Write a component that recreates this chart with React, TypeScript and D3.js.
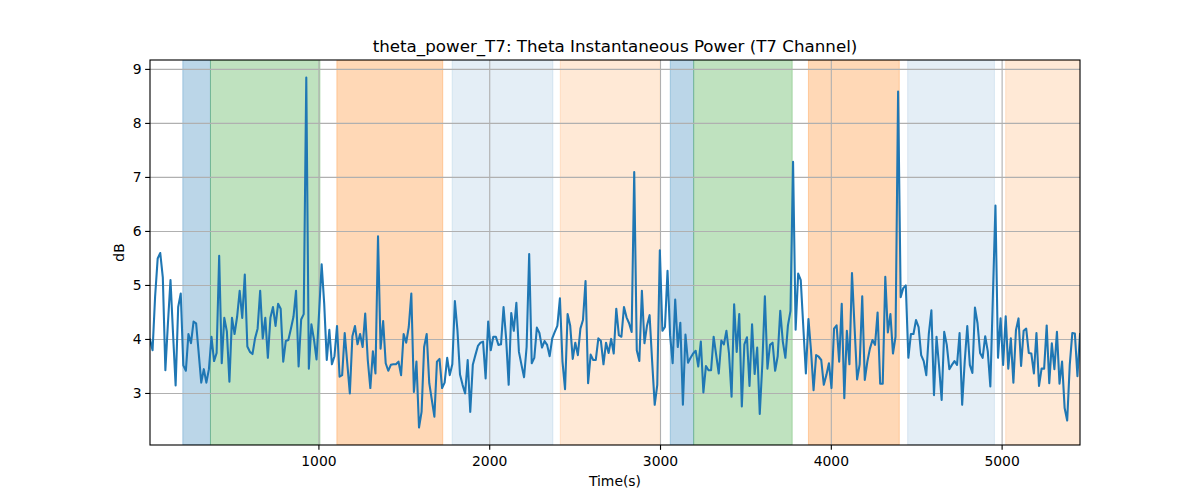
import React from "react";
import * as d3 from "d3";

const T0 = 11;
const STEP = 15;

const values: number[] = [
  4.0, 3.8, 4.8, 5.5, 5.6, 5.15, 3.43, 4.3, 5.1, 4.1,
  3.15, 4.6, 4.85, 3.52, 3.42, 4.1, 3.93, 4.33, 4.3, 3.75,
  3.2, 3.45, 3.2, 3.45, 4.05, 3.6, 3.75, 5.55, 3.56, 4.4,
  4.15, 3.22, 4.4, 4.1, 4.42, 4.9, 4.4, 5.2, 3.87, 3.77,
  3.73, 4.02, 4.2, 4.9, 4.02, 4.4, 3.66, 4.4, 4.6, 4.25,
  4.66, 4.57, 3.59, 3.97, 3.99, 4.2, 4.42, 4.9, 3.5, 4.37,
  4.47, 8.85, 3.46, 4.28, 4.0, 3.63, 4.5, 5.39, 4.66, 3.62,
  4.18, 3.54, 3.69, 4.25, 3.31, 3.34, 4.12, 3.56, 3.0, 4.06,
  4.25, 3.91, 4.1, 3.86, 4.48, 3.62, 3.1, 3.78, 3.37, 5.91,
  3.83, 4.34, 3.56, 3.42, 3.53, 3.54, 3.54, 3.59, 3.34, 4.1,
  3.94, 4.23, 4.85, 3.03, 3.59, 2.37, 2.66, 3.86, 4.1, 3.19,
  2.88, 2.57, 3.59, 3.64, 3.1, 3.2, 3.66, 3.34, 3.54, 4.71,
  4.17, 3.35, 3.16, 3.0, 3.62, 2.66, 3.53, 3.71, 3.88, 3.94,
  3.96, 3.28, 4.33, 3.8, 4.05, 4.05, 3.9, 3.91, 4.6, 4.02,
  3.16, 4.49, 4.16, 4.68, 3.77, 3.53, 3.3, 3.86, 5.58, 3.56,
  3.66, 4.22, 4.12, 3.85, 3.97, 3.9, 3.69, 4.02, 4.14, 4.25,
  4.76, 3.59, 3.08, 4.47, 4.26, 3.64, 3.94, 3.71, 4.2, 4.36,
  5.08, 3.19, 3.72, 3.62, 3.62, 4.02, 3.97, 3.54, 3.94, 3.75,
  4.01, 3.74, 4.57, 4.08, 4.05, 4.6, 4.41, 4.3, 4.14, 7.1,
  3.8, 3.6, 4.9, 3.93, 4.26, 4.45, 3.59, 2.79, 3.16, 5.65,
  4.16, 4.23, 5.27, 4.08, 3.56, 4.74, 3.86, 4.31, 2.79, 4.09,
  3.57, 3.66, 3.74, 3.79, 3.5, 3.96, 3.02, 3.51, 3.43, 3.43,
  4.05, 3.71, 3.37, 3.98, 3.91, 4.16, 3.74, 2.94, 4.65, 3.77,
  4.47, 2.76, 3.91, 4.04, 3.14, 4.28, 3.36, 3.85, 2.62, 3.54,
  4.8, 3.46, 3.9, 3.94, 3.42, 3.69, 4.53, 3.96, 3.66, 4.26,
  4.53, 7.29, 4.18, 5.22, 5.1, 4.23, 3.37, 4.38, 3.8, 3.06,
  3.71, 3.68, 3.62, 3.16, 3.34, 3.56, 3.1, 4.2, 4.26, 3.59,
  4.66, 2.91, 4.16, 3.54, 5.23, 4.23, 3.26, 3.54, 4.8, 3.25,
  3.59, 3.83, 3.99, 3.9, 4.5, 3.18, 3.18, 5.16, 4.13, 4.47,
  3.74, 4.05, 8.59, 4.78, 4.95, 5.0, 3.66, 4.1, 4.1, 4.36,
  4.23, 3.71, 3.6, 3.34, 4.11, 4.54, 2.97, 4.05, 3.5, 2.88,
  4.14, 3.9, 3.45, 3.53, 3.6, 3.53, 4.12, 2.79, 3.59, 4.25,
  3.53, 3.38, 4.59, 4.3, 3.75, 3.66, 4.06, 3.78, 3.13, 4.8,
  6.48, 3.66, 4.39, 3.53, 4.43, 3.46, 4.02, 3.2, 4.17, 4.39,
  3.51, 4.16, 4.2, 3.75, 3.74, 3.37, 4.12, 3.14, 3.46, 3.46,
  4.26, 3.19, 3.93, 3.45, 4.14, 3.18, 3.59, 2.73, 2.5, 3.53,
  4.12, 4.11, 3.32, 4.1,
];

const times: number[] = values.map((_, i) => T0 + i * STEP);

const spanStarts = [203, 365, 1105, 1780, 2413, 3057, 3194, 3866, 4447, 5021];
const spanEnds = [365, 1006, 1725, 2370, 2999, 3194, 3771, 4398, 4955, 5600];
const spanColors = ["#1f77b4", "#2ca02c", "#ff7f0e", "#1f77b4", "#ff7f0e", "#1f77b4", "#2ca02c", "#ff7f0e", "#1f77b4", "#ff7f0e"];
const spanAlphas = [0.3, 0.3, 0.3, 0.12, 0.17, 0.3, 0.3, 0.3, 0.12, 0.17];

const xTicks = [1000, 2000, 3000, 4000, 5000];
const yTicks = [3, 4, 5, 6, 7, 8, 9];

const TITLE = "theta_power_T7: Theta Instantaneous Power (T7 Channel)";
const XLABEL = "Time(s)";
const YLABEL = "dB";

export default function App() {
  const W = 1200, H = 500;
  const L = 150, R = 1080, T = 60, B = 445;
  const x = d3.scaleLinear().domain([times[0], times[times.length - 1]]).range([L, R]);
  const [mn, mx] = d3.extent(values) as [number, number];
  const pad = (mx - mn) * 0.05;
  const y = d3.scaleLinear().domain([mn - pad, mx + pad]).range([B, T]);
  const line = d3.line<number>().x((_, i) => x(times[i])).y((d) => y(d));
  const font = "DejaVu Sans, sans-serif";
  const fs = 13.9;

  return (
    <svg width={W} height={H} style={{ position: "absolute", left: 0, top: 0, background: "#fff" }} fontFamily={font}>
      <defs>
        <clipPath id="plot">
          <rect x={L} y={T} width={R - L} height={B - T} />
        </clipPath>
      </defs>
      <rect x={0} y={0} width={W} height={H} fill="#fff" />
      <g clipPath="url(#plot)">
        {spanStarts.map((s, i) => (
          <rect
            key={i}
            x={x(s)}
            y={T}
            width={x(spanEnds[i]) - x(s)}
            height={B - T}
            fill={spanColors[i]}
            fillOpacity={spanAlphas[i]}
            stroke={spanColors[i]}
            strokeOpacity={spanAlphas[i]}
            strokeWidth={1}
          />
        ))}
        {xTicks.map((t) => (
          <line key={"gx" + t} x1={x(t)} x2={x(t)} y1={T} y2={B} stroke="#b0b0b0" strokeWidth={1.11} />
        ))}
        {yTicks.map((t) => (
          <line key={"gy" + t} x1={L} x2={R} y1={y(t)} y2={y(t)} stroke="#b0b0b0" strokeWidth={1.11} />
        ))}
        <path d={line(values) || ""} fill="none" stroke="#1f77b4" strokeWidth={2.08} strokeLinejoin="round" strokeLinecap="square" />
      </g>
      <rect x={L} y={T} width={R - L} height={B - T} fill="none" stroke="#000" strokeWidth={1.11} />
      {xTicks.map((t) => (
        <g key={"tx" + t}>
          <line x1={x(t)} x2={x(t)} y1={B} y2={B + 4.86} stroke="#000" strokeWidth={1.11} />
          <text x={x(t)} y={B + 16} textAnchor="middle" fontSize={fs} dominantBaseline="central" fill="#000">{t}</text>
        </g>
      ))}
      {yTicks.map((t) => (
        <g key={"ty" + t}>
          <line x1={L - 4.86} x2={L} y1={y(t)} y2={y(t)} stroke="#000" strokeWidth={1.11} />
          <text x={L - 8.5} y={y(t)} textAnchor="end" fontSize={fs} dominantBaseline="central" fill="#000">{t}</text>
        </g>
      ))}
      <text x={(L + R) / 2} y={481} textAnchor="middle" fontSize={fs} dominantBaseline="central" fill="#000">{XLABEL}</text>
      <text transform={`translate(119, ${(T + B) / 2}) rotate(-90)`} textAnchor="middle" fontSize={fs} dominantBaseline="central" fill="#000">{YLABEL}</text>
      <text x={(L + R) / 2} y={46} textAnchor="middle" fontSize={16.7} dominantBaseline="central" fill="#000">{TITLE}</text>
    </svg>
  );
}
